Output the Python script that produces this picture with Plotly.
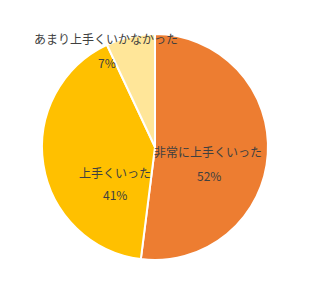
import plotly.graph_objects as go

labels = ["非常に上手くいった", "上手くいった", "あまり上手くいかなかった"]
values = [52, 41, 7]
colors = ["#ED7D31", "#FFC000", "#FFE699"]

# label anchor positions (paper coords): name line, percent line
name_pos = [(0.735, 0.478), (0.323, 0.385), (0.285, 0.982)]
pct_pos = [(0.739, 0.372), (0.323, 0.288), (0.288, 0.872)]

fig = go.Figure(go.Pie(
    labels=labels, values=values, sort=False, direction="clockwise", rotation=0,
    marker=dict(colors=colors, line=dict(color="white", width=2)),
    textinfo="none", hoverinfo="label+percent", showlegend=False,
))

font = dict(family="Noto Sans CJK JP, sans-serif", size=12, color="#404040")
anns = []
for lab, v, (nx, ny), (px, py) in zip(labels, values, name_pos, pct_pos):
    anns.append(dict(x=nx, y=ny, xref="paper", yref="paper", text=lab, showarrow=False,
                     xanchor="center", yanchor="middle", font=font))
    anns.append(dict(x=px, y=py, xref="paper", yref="paper", text=f"{v}%", showarrow=False,
                     xanchor="center", yanchor="middle", font=font))

fig.update_layout(
    width=310, height=293,
    margin=dict(l=42, r=42, t=34, b=33),
    paper_bgcolor="white", plot_bgcolor="white",
    annotations=anns,
)
fig.write_html("out.html")
